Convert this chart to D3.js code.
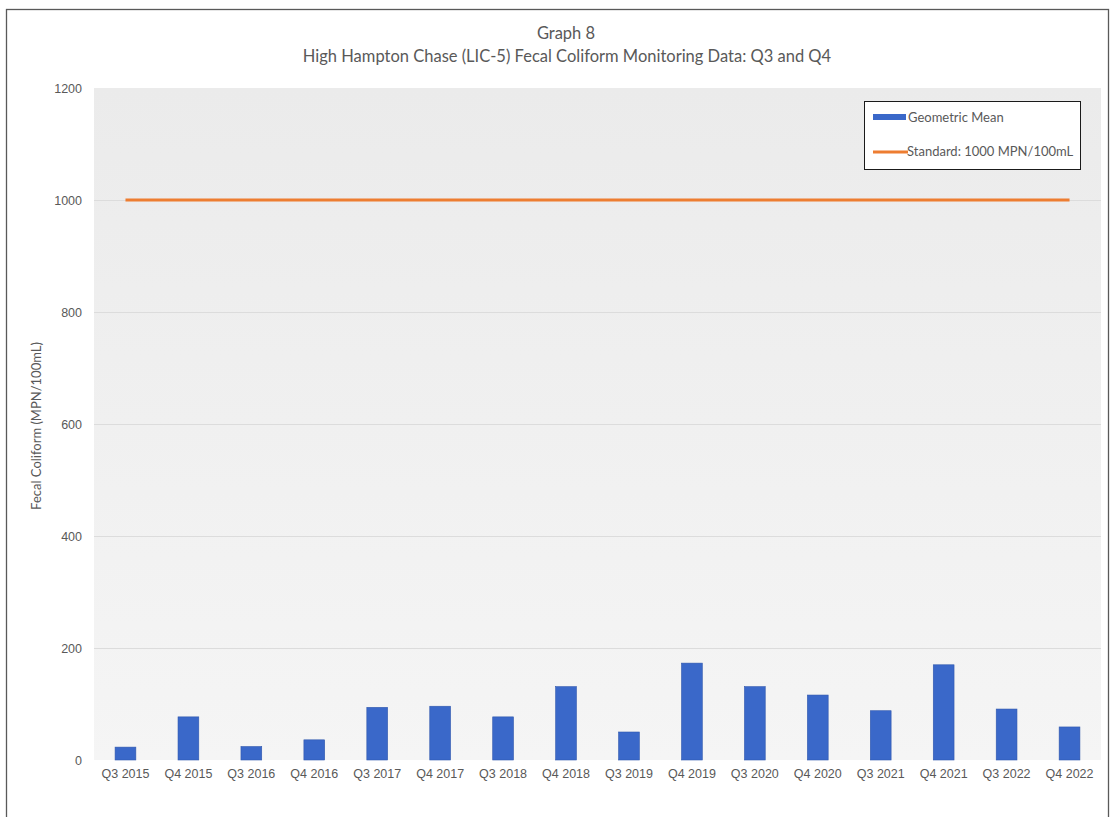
<!DOCTYPE html>
<html>
<head>
<meta charset="utf-8">
<script src="https://cdn.jsdelivr.net/npm/d3@7/dist/d3.min.js"></script>
<style>
  html, body { margin: 0; padding: 0; background: #fff; }
  svg { display: block; font-family: "Lato", "Open Sans", sans-serif; }
</style>
</head>
<body>
<svg id="chart" width="1112" height="817"></svg>
<script>
// Quarterly sampling periods
const categories = ["Q3 2015","Q4 2015","Q3 2016","Q4 2016","Q3 2017","Q4 2017","Q3 2018","Q4 2018",
                    "Q3 2019","Q4 2019","Q3 2020","Q4 2020","Q3 2021","Q4 2021","Q3 2022","Q4 2022"];
// Geometric mean of fecal coliform (MPN/100mL)
const geometricMean = [23, 77, 24, 36, 94, 96, 77, 131, 50, 173, 131, 116, 88, 170, 91, 59];
// Regulatory standard (MPN/100mL)
const standardValue = 1000;
const yTicks = [0, 200, 400, 600, 800, 1000, 1200];

const svg = d3.select("#chart");
const W = 1112, H = 817;
const margin = { top: 88, right: 11, bottom: 57, left: 94 };

// outer chart frame
svg.append("rect")
  .attr("x", 6.5).attr("y", 9.5).attr("width", 1102).attr("height", 820)
  .attr("fill", "#fff").attr("stroke", "#595959").attr("stroke-width", 1.3);

// plot area background gradient
const defs = svg.append("defs");
const grad = defs.append("linearGradient").attr("id", "plotBg")
  .attr("x1", 0).attr("y1", 0).attr("x2", 0).attr("y2", 1);
grad.append("stop").attr("offset", "0%").attr("stop-color", "#ebebeb");
grad.append("stop").attr("offset", "60%").attr("stop-color", "#f1f1f1");
grad.append("stop").attr("offset", "100%").attr("stop-color", "#f5f5f5");

const x = d3.scaleBand().domain(categories)
  .range([margin.left, W - margin.right]).paddingInner(0.67).paddingOuter(0.335);
const y = d3.scaleLinear().domain([0, 1200]).range([H - margin.bottom, margin.top]);

svg.append("rect")
  .attr("x", margin.left).attr("y", y(1200))
  .attr("width", W - margin.right - margin.left).attr("height", y(0) - y(1200))
  .attr("fill", "url(#plotBg)");

// horizontal gridlines
svg.append("g").selectAll("line").data(yTicks.filter(d => d > 0 && d < 1200)).join("line")
  .attr("x1", margin.left).attr("x2", W - margin.right)
  .attr("y1", d => Math.round(y(d)) + 0.5).attr("y2", d => Math.round(y(d)) + 0.5)
  .attr("stroke", "#dcdcdc").attr("stroke-width", 1);

// y axis
const yAxis = svg.append("g").attr("transform", `translate(${margin.left},0)`)
  .call(d3.axisLeft(y).tickValues(yTicks).tickFormat(d3.format("d")).tickSize(0).tickPadding(12));
yAxis.select(".domain").remove();
yAxis.selectAll("text").attr("fill", "#595959").style("font-size", "12.5px");

// x axis
const xAxis = svg.append("g").attr("transform", `translate(0,${y(0)})`)
  .call(d3.axisBottom(x).tickSize(0).tickPadding(9));
xAxis.select(".domain").remove();
xAxis.selectAll("text").attr("fill", "#595959").style("font-size", "12.5px");

// bars
svg.append("g").selectAll("rect").data(geometricMean).join("rect")
  .attr("x", (d, i) => x(categories[i]))
  .attr("y", d => y(d))
  .attr("width", x.bandwidth())
  .attr("height", d => y(0) - y(d))
  .attr("fill", "#3a68c9")
  .attr("stroke", "#2f57ad").attr("stroke-width", 0.6);

// standard line
const line = d3.line().x(d => x(d) + x.bandwidth() / 2).y(() => y(standardValue));
svg.append("path").datum(categories)
  .attr("d", line)
  .attr("fill", "none").attr("stroke", "#ed7d31").attr("stroke-width", 3);

// titles
svg.append("text").attr("x", 566).attr("y", 39).attr("text-anchor", "middle")
  .attr("fill", "#595959").style("font-size", "16.5px").text("Graph 8");
svg.append("text").attr("x", 567).attr("y", 62).attr("text-anchor", "middle")
  .attr("fill", "#595959").style("font-size", "16.5px")
  .text("High Hampton Chase (LIC-5) Fecal Coliform Monitoring Data: Q3 and Q4");

// y axis title
svg.append("text")
  .attr("transform", `translate(41,${(y(0) + y(1200)) / 2 + 2}) rotate(-90)`)
  .attr("text-anchor", "middle").attr("fill", "#595959").style("font-size", "13px")
  .text("Fecal Coliform (MPN/100mL)");

// legend
const lg = svg.append("g").attr("transform", "translate(864,101)");
lg.append("rect").attr("x", 0.5).attr("y", 0.5).attr("width", 216).attr("height", 68)
  .attr("fill", "#fff").attr("stroke", "#1a1a1a").attr("stroke-width", 1);
lg.append("rect").attr("x", 9).attr("y", 13).attr("width", 33).attr("height", 6).attr("fill", "#3a68c9");
lg.append("text").attr("x", 44).attr("y", 21).attr("fill", "#595959").style("font-size", "13px").text("Geometric Mean");
lg.append("line").attr("x1", 9).attr("x2", 44).attr("y1", 51).attr("y2", 51)
  .attr("stroke", "#ed7d31").attr("stroke-width", 3);
lg.append("text").attr("x", 43).attr("y", 55).attr("fill", "#595959").style("font-size", "13px").text("Standard: 1000 MPN/100mL");
</script>
</body>
</html>
